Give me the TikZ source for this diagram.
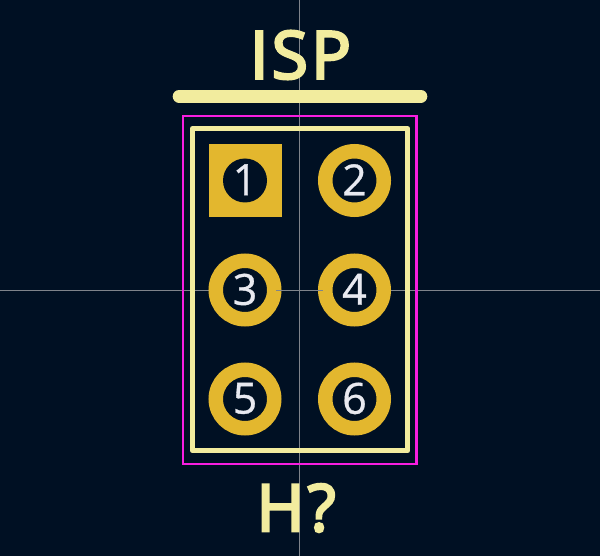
\documentclass[tikz,border=0pt]{standalone}
\usepackage{fontspec}
\setmainfont{Open Sans}
\newfontfamily\silk[FakeBold=4,LetterSpace=5]{Open Sans}
\newfontfamily\padfont[FakeBold=0.8]{Open Sans}
\newcommand{\padnum}[1]{\raisebox{1.5pt}{#1}}
\definecolor{bg}{HTML}{001023}
\definecolor{silk}{HTML}{F2EC9E}
\definecolor{copper}{HTML}{E3B72E}
\definecolor{court}{HTML}{F81EE0}
\definecolor{padtext}{HTML}{E8E9F0}
\definecolor{cross}{HTML}{7F848B}
\tikzset{
  x=1pt,y=-1pt,
  silkline/.style={draw=silk,line width=5.2pt,line join=round,line cap=round},
  courtline/.style={draw=court,line width=2.4pt},
  crossline/.style={draw=cross,line width=0.8pt},
  padbase/.style={inner sep=0pt,outer sep=0pt,font=\padfont\fontsize{43}{43}\selectfont,text=padtext},
  roundpad/.style={padbase,circle,draw=copper,fill=bg,line width=14.5pt,minimum size=58.5pt},
  squarepad/.style={padbase,circle,fill=bg,minimum size=44pt},
  silktext/.style={inner sep=0pt,text=silk}
}
\begin{document}
\begin{tikzpicture}
\fill[bg] (0,0) rectangle (600,556);
\useasboundingbox (0,0) rectangle (600,556);
\draw[crossline] (299.5,0) -- (299.5,556);
\draw[crossline] (0,290.5) -- (600,290.5);
\draw[courtline] (183,116) rectangle (416.5,464);
\draw[silkline] (192.5,128.6) rectangle (407.7,450.8);
\draw[draw=silk,line width=12.6pt,line cap=round] (179,96.3) -- (421,96.3);
\fill[copper] (208.5,144) rectangle (281.5,217);
\node[squarepad] (p1) at (245,180.5) {\padnum{1}};
\node[roundpad] (p2) at (354.5,180.5) {\padnum{2}};
\node[roundpad] (p3) at (245,290) {\padnum{3}};
\node[roundpad] (p4) at (354.5,290) {\padnum{4}};
\node[roundpad] (p5) at (245,399) {\padnum{5}};
\node[roundpad] (p6) at (354.5,399) {\padnum{6}};
\draw[crossline] (276,290.5) -- (323,290.5);
\node[silktext,font=\silk\fontsize{66}{66}\selectfont] (ref) at (300.5,55) {ISP};
\node[silktext,font=\silk\fontsize{65}{65}\selectfont] (val) at (296,508) {H?};
\end{tikzpicture}
\end{document}
